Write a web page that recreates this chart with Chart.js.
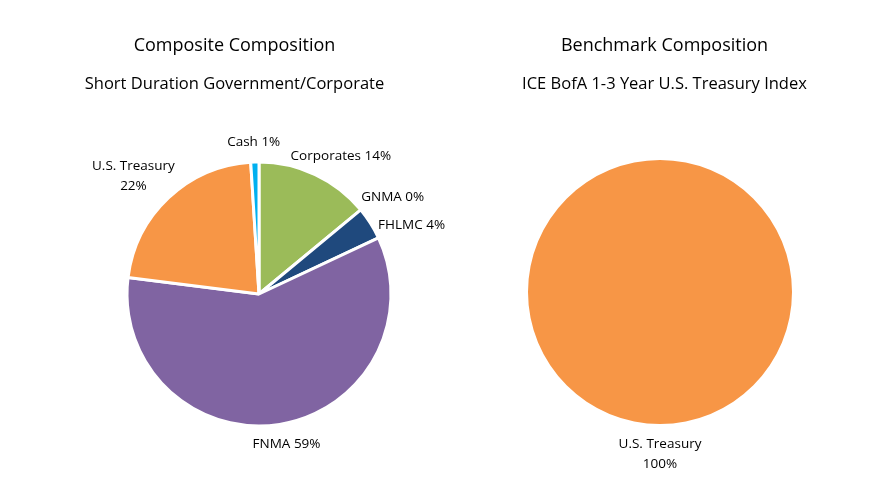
<!DOCTYPE html>
<html>
<head>
<meta charset="utf-8">
<script src="https://cdn.jsdelivr.net/npm/chart.js@4"></script>
<style>
    html, body { margin: 0; padding: 0; background: #fff; }
    body { width: 874px; height: 487px; position: relative; overflow: hidden;
           font-family: 'Open Sans', sans-serif; color: #000; }
    .pane { position: absolute; top: 0; height: 487px; }
    #left-pane { left: 0; width: 518px; }
    #right-pane { left: 446px; width: 428px; }
    .head { position: absolute; text-align: center; white-space: nowrap; }
    .title { top: 33px; height: 22px; line-height: 22px; font-size: 18px; }
    .subtitle { top: 72px; height: 22px; line-height: 22px; font-size: 16.5px; }
    .left-head { left: 0; width: 469px; }
    .right-head { left: 446px; width: 437px; }
</style>
</head>
<body>
<div class="pane" id="left-pane"><canvas id="compositeChart"></canvas></div>
<div class="pane" id="right-pane"><canvas id="benchmarkChart"></canvas></div>
<div class="head title left-head">Composite Composition</div>
<div class="head subtitle left-head">Short Duration Government/Corporate</div>
<div class="head title right-head">Benchmark Composition</div>
<div class="head subtitle right-head">ICE BofA 1-3 Year U.S. Treasury Index</div>
<script>
// Composite: Short Duration Government/Corporate
const compositeLabels = ['Corporates', 'GNMA', 'FHLMC', 'FNMA', 'U.S. Treasury', 'Cash'];
const compositeValues = [14, 0, 4, 59, 22, 1];

// Benchmark: ICE BofA 1-3 Year U.S. Treasury Index
const benchmarkLabels = ['U.S. Treasury'];
const benchmarkValues = [100];

const compositeColors = ['#9BBB59', '#1F497D', '#1F497D', '#8064A2', '#F79646', '#00B0F0'];
const benchmarkColors = ['#F79646'];

const FONT = "'Open Sans', sans-serif";
const TEXT = '#000000';

function overlaps(a, b) {
    return a.x0 < b.x1 && b.x0 < a.x1 && a.y0 < b.y1 && b.y0 < a.y1;
}

// draws "Label xx%" just outside each slice, wrapping long ones onto two lines
const outsideLabels = {
    id: 'outsideLabels',
    afterDatasetsDraw(chart) {
        const ctx = chart.ctx;
        const meta = chart.getDatasetMeta(0);
        const values = chart.data.datasets[0].data;
        const size = 13.5;
        const lineH = 20;
        const gap = 4;
        const placed = [];
        ctx.save();
        ctx.font = size + 'px ' + FONT;
        ctx.fillStyle = TEXT;
        ctx.textAlign = 'center';
        ctx.textBaseline = 'middle';
        meta.data.forEach((arc, i) => {
            const p = arc.getProps(['x', 'y', 'startAngle', 'endAngle', 'outerRadius'], true);
            const mid = (p.startAngle + p.endAngle) / 2;
            const ux = Math.cos(mid), uy = Math.sin(mid);
            const name = chart.data.labels[i];
            const pct = values[i] + '%';
            let lines = [name + ' ' + pct];
            if (ctx.measureText(lines[0]).width > 108) lines = [name, pct];
            const w = Math.max(...lines.map(l => ctx.measureText(l).width));
            const h = lines.length * lineH;
            const r = p.outerRadius + 10;
            let cx = p.x + r * ux + (w / 2) * ux;
            let cy = p.y + r * uy + (h / 2) * uy;
            const boxAt = (x, y) => ({ x0: x - w / 2, x1: x + w / 2, y0: y - h / 2 - gap, y1: y + h / 2 + gap });
            // push along the rim out of the way of labels already placed
            const step = uy >= 0 || ux > 0 ? 1 : -1;
            let box = boxAt(cx, cy);
            let guard = 0;
            while (placed.some(b => overlaps(b, box)) && guard++ < 60) {
                cy += step;
                cx += step * ux * 0.4;
                box = boxAt(cx, cy);
            }
            placed.push(box);
            lines.forEach((l, k) => {
                ctx.fillText(l, cx, cy - h / 2 + lineH / 2 + k * lineH);
            });
        });
        ctx.restore();
    }
};

function makePie(id, labels, values, colors, border, padding) {
    return new Chart(document.getElementById(id), {
        type: 'pie',
        data: {
            labels: labels,
            datasets: [{
                data: values,
                backgroundColor: colors,
                borderColor: '#ffffff',
                borderWidth: border,
                radius: 132
            }]
        },
        options: {
            responsive: true,
            maintainAspectRatio: false,
            animation: false,
            layout: { padding: padding },
            plugins: {
                legend: { display: false },
                tooltip: { enabled: false },
                title: { display: false }
            }
        },
        plugins: [outsideLabels]
    });
}

makePie('compositeChart', compositeLabels, compositeValues, compositeColors, 3,
    { left: 0, right: 0, top: 101, bottom: 0 });

makePie('benchmarkChart', benchmarkLabels, benchmarkValues, benchmarkColors, 0,
    { left: 0, right: 0, top: 97, bottom: 0 });
</script>
</body>
</html>
